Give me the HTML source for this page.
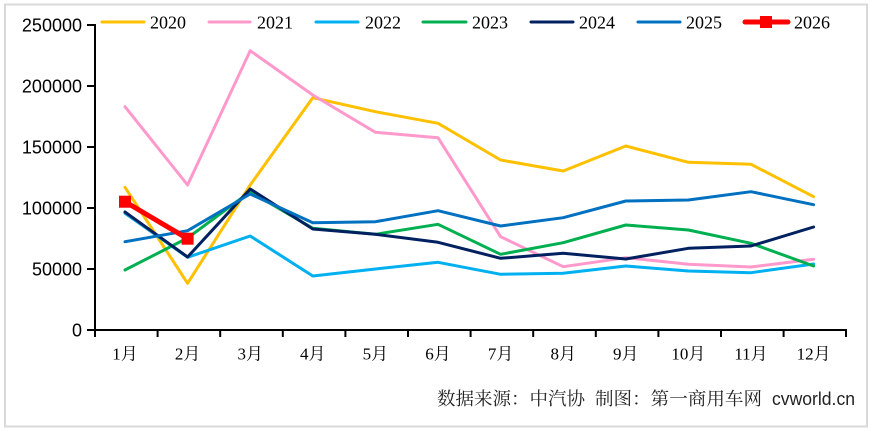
<!DOCTYPE html>
<html><head><meta charset="utf-8"><style>
html,body{margin:0;padding:0;background:#fff;}
svg{display:block;}
</style></head><body>
<svg width="872" height="432" viewBox="0 0 872 432" xmlns="http://www.w3.org/2000/svg">
<rect x="0" y="0" width="872" height="432" fill="#fff"/>
<rect x="5" y="4.5" width="862" height="422" fill="#fff" stroke="#D9D9D9" stroke-width="2"/>
<!-- axes -->
<g stroke="#000" stroke-width="2" fill="none">
<line x1="95" y1="24" x2="95" y2="331"/>
<line x1="94" y1="330" x2="847" y2="330"/>
<line x1="87" y1="25" x2="95" y2="25"/>
<line x1="87" y1="86" x2="95" y2="86"/>
<line x1="87" y1="147" x2="95" y2="147"/>
<line x1="87" y1="208" x2="95" y2="208"/>
<line x1="87" y1="269" x2="95" y2="269"/>
<line x1="87" y1="330" x2="95" y2="330"/>
<line x1="95" y1="330" x2="95" y2="337"/>
<line x1="157.6" y1="330" x2="157.6" y2="337"/>
<line x1="220.2" y1="330" x2="220.2" y2="337"/>
<line x1="282.8" y1="330" x2="282.8" y2="337"/>
<line x1="345.4" y1="330" x2="345.4" y2="337"/>
<line x1="408" y1="330" x2="408" y2="337"/>
<line x1="470.6" y1="330" x2="470.6" y2="337"/>
<line x1="533.2" y1="330" x2="533.2" y2="337"/>
<line x1="595.8" y1="330" x2="595.8" y2="337"/>
<line x1="658.4" y1="330" x2="658.4" y2="337"/>
<line x1="721" y1="330" x2="721" y2="337"/>
<line x1="783.6" y1="330" x2="783.6" y2="337"/>
<line x1="846" y1="330" x2="846" y2="337"/>
</g>
<!-- y labels -->
<g font-family="'Liberation Sans', Arial, sans-serif" font-size="18" fill="#000" text-anchor="end">
<text x="82" y="31.5">250000</text>
<text x="82" y="92.5">200000</text>
<text x="82" y="153.5">150000</text>
<text x="82" y="214.5">100000</text>
<text x="82" y="275.5">50000</text>
<text x="82" y="336.5">0</text>
</g>
<!-- x labels -->
<g font-family="'Liberation Serif', 'Noto Serif CJK SC', serif" font-size="17" fill="#000" text-anchor="middle">
<text x="125" y="359.5">1月</text>
<text x="187.6" y="359.5">2月</text>
<text x="250.2" y="359.5">3月</text>
<text x="312.8" y="359.5">4月</text>
<text x="375.4" y="359.5">5月</text>
<text x="438" y="359.5">6月</text>
<text x="500.6" y="359.5">7月</text>
<text x="563.2" y="359.5">8月</text>
<text x="625.8" y="359.5">9月</text>
<text x="688.4" y="359.5">10月</text>
<text x="751" y="359.5">11月</text>
<text x="813.6" y="359.5">12月</text>
</g>
<!-- series -->
<g fill="none" stroke-width="3" stroke-linejoin="round" stroke-linecap="round">
<polyline stroke="#FFC000" points="125,187.3 187.6,283.3 250.2,185 312.8,97.7 375.4,111.7 438,123.3 500.6,160 563.2,171 625.8,146 688.4,162.3 751,164.3 813.6,196.7"/>
<polyline stroke="#FF99CC" points="125,106.7 187.6,185 250.2,50.7 312.8,95 375.4,132.3 438,137.7 500.6,236.7 563.2,266.7 625.8,257.7 688.4,264.3 751,267 813.6,259.3"/>
<polyline stroke="#00B0F0" points="125,213.3 187.6,257.3 250.2,236 312.8,276 375.4,269 438,262.3 500.6,274.3 563.2,273.3 625.8,266 688.4,271 751,272.7 813.6,264"/>
<polyline stroke="#00B050" points="125,270 187.6,238 250.2,191.7 312.8,228.3 375.4,234.3 438,224.3 500.6,254.3 563.2,242.7 625.8,225 688.4,230 751,243.3 813.6,266"/>
<polyline stroke="#002060" points="125,212 187.6,257 250.2,189 312.8,229 375.4,234.3 438,242.3 500.6,258.3 563.2,253.3 625.8,259 688.4,248.3 751,246 813.6,227"/>
<polyline stroke="#0070C0" points="125,241.7 187.6,230.7 250.2,194 312.8,222.7 375.4,221.7 438,210.7 500.6,226 563.2,217.7 625.8,201 688.4,200 751,191.7 813.6,204.7"/>
<polyline stroke="#FF0000" stroke-width="5" points="125,201.7 187.6,238.7"/>
</g>
<rect x="119" y="195.7" width="12" height="12" fill="#FF0000"/>
<rect x="181.6" y="232.7" width="12" height="12" fill="#FF0000"/>
<!-- legend -->
<g stroke-width="3" stroke-linecap="round" fill="none">
<line x1="102" y1="22" x2="144" y2="22" stroke="#FFC000"/>
<line x1="209" y1="22" x2="250" y2="22" stroke="#FF99CC"/>
<line x1="316" y1="22" x2="358" y2="22" stroke="#00B0F0"/>
<line x1="423" y1="22" x2="466" y2="22" stroke="#00B050"/>
<line x1="531" y1="22" x2="573" y2="22" stroke="#002060"/>
<line x1="638" y1="22" x2="680" y2="22" stroke="#0070C0"/>
<line x1="745" y1="22" x2="788" y2="22" stroke="#FF0000" stroke-width="5"/>
</g>
<rect x="760" y="16" width="12" height="12" fill="#FF0000"/>
<g font-family="'Liberation Serif', 'Noto Serif CJK SC', serif" font-size="18" fill="#000">
<text x="150" y="28.5">2020</text>
<text x="257" y="28.5">2021</text>
<text x="365" y="28.5">2022</text>
<text x="472" y="28.5">2023</text>
<text x="579" y="28.5">2024</text>
<text x="686" y="28.5">2025</text>
<text x="794" y="28.5">2026</text>
</g>
<!-- source -->
<g font-size="18" fill="#222">
<text x="437" y="405" font-family="'Liberation Serif', 'Noto Serif CJK SC', serif" textLength="148" lengthAdjust="spacingAndGlyphs">数据来源：中汽协</text>
<text x="595" y="405" font-family="'Liberation Serif', 'Noto Serif CJK SC', serif" textLength="167" lengthAdjust="spacingAndGlyphs">制图：第一商用车网</text>
<text x="772" y="405" font-family="'Liberation Sans', Arial, sans-serif" textLength="83" lengthAdjust="spacingAndGlyphs">cvworld.cn</text>
</g>
</svg>
</body></html>
